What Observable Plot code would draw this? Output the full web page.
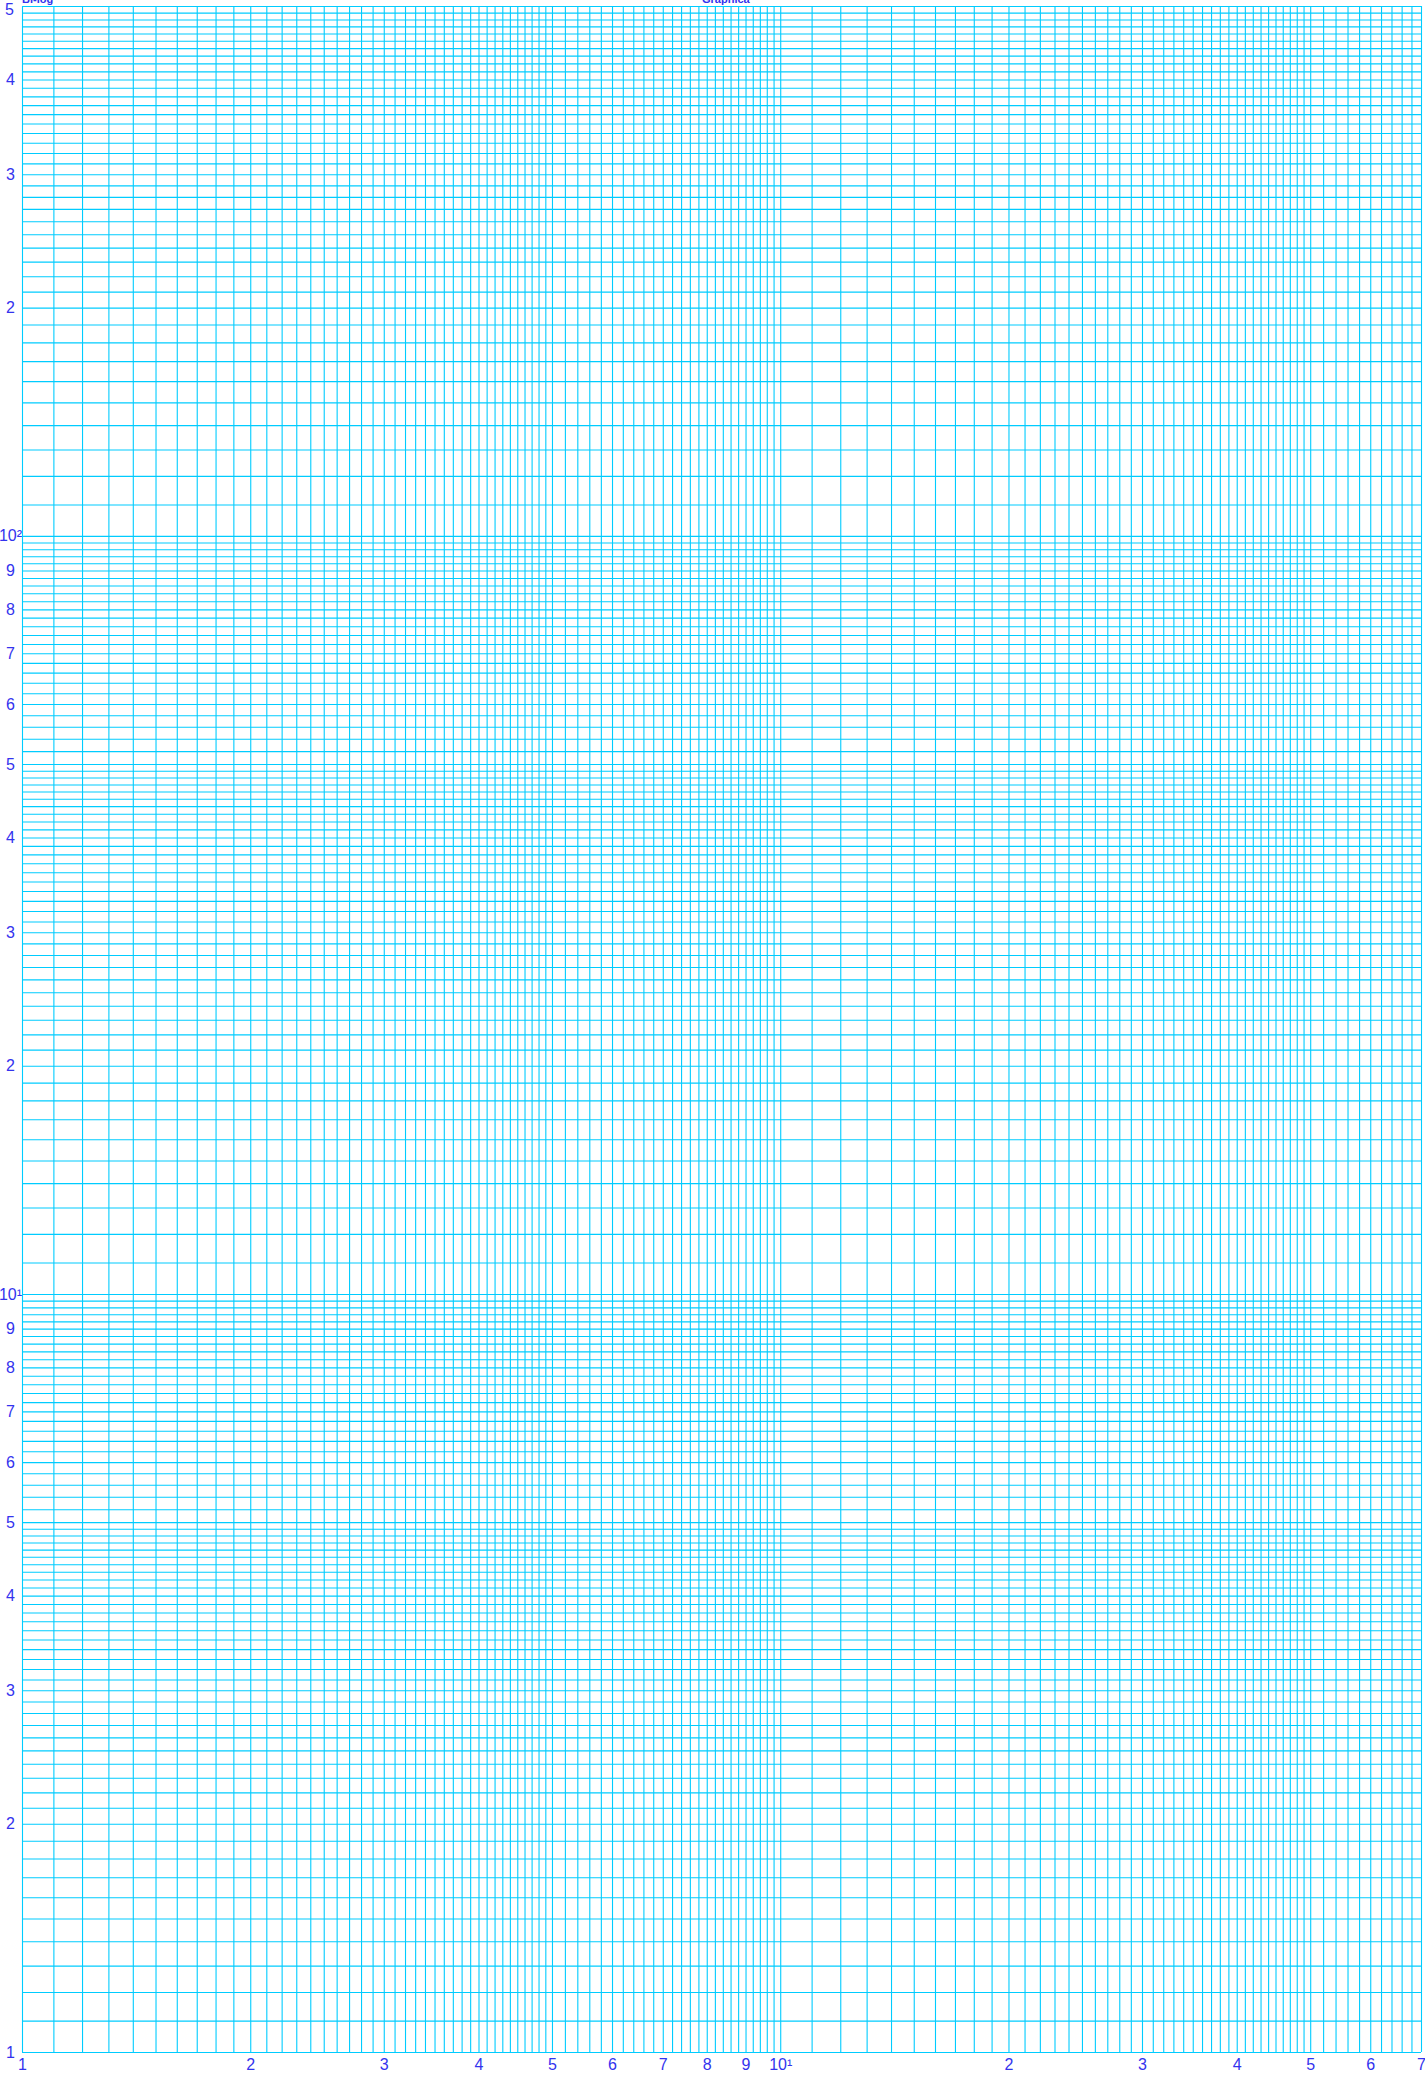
<!DOCTYPE html>
<html>
<head>
<meta charset="utf-8">
<script src="https://cdn.jsdelivr.net/npm/d3@7"></script>
<script src="https://cdn.jsdelivr.net/npm/@observablehq/plot@0.6"></script>
<style>
  html, body { margin: 0; padding: 0; background: #fff; }
  #wrap { position: relative; width: 1425px; height: 2074px; overflow: hidden; }
  .hdr { position: absolute; top: -7px; font: bold 11px "Liberation Sans", Arial, sans-serif; color: #3333ee; white-space: nowrap; }
</style>
</head>
<body>
<div id="wrap">
  <div class="hdr" style="left:22px">Bi-log</div>
  <div class="hdr" style="left:702px">Graphica</div>
</div>
<script>
// Grid segments: [start, end, step] in log-paper subdivisions
const xGridSegments = [[1, 5, 0.1], [5, 10, 0.2], [10, 50, 1], [50, 70, 2]];
const yGridSegments = [[1, 5, 0.1], [5, 10, 0.2], [10, 50, 1], [50, 100, 2], [100, 500, 10]];
// Axis tick labels
const xTicks = [1, 2, 3, 4, 5, 6, 7, 8, 9, 10, 20, 30, 40, 50, 60, 70];
const xTickLabels = ["1", "2", "3", "4", "5", "6", "7", "8", "9", "10¹", "2", "3", "4", "5", "6", "7"];
const yTicks = [1, 2, 3, 4, 5, 6, 7, 8, 9, 10, 20, 30, 40, 50, 60, 70, 80, 90, 100, 200, 300, 400, 500];
const yTickLabels = ["1", "2", "3", "4", "5", "6", "7", "8", "9", "10¹", "2", "3", "4", "5", "6", "7", "8", "9", "10²", "2", "3", "4", "5"];

function expand(segs) {
  const out = [];
  for (const [a, b, s] of segs) {
    const n = Math.round((b - a) / s);
    for (let i = 0; i <= n; i++) out.push(+(a + i * s).toFixed(4));
  }
  return Array.from(new Set(out));
}
const xGrid = expand(xGridSegments);
const yGrid = expand(yGridSegments);
const yLab = new Map(yTicks.map((d, i) => [d, yTickLabels[i]]));
const yTop = yTicks[yTicks.length - 1];

const gridColor = "#00ccff";
const labelColor = "#3333ee";

const chart = Plot.plot({
  width: 1425,
  height: 2074,
  marginLeft: 22,
  marginRight: 4,
  marginTop: 6,
  marginBottom: 22,
  style: { fontFamily: "Liberation Sans, Arial, sans-serif", background: "transparent", overflow: "visible" },
  x: { type: "log", domain: [1, 70], axis: null },
  y: { type: "log", domain: [1, 500], axis: null },
  marks: [
    Plot.ruleX(xGrid, { x: d => d, stroke: gridColor, strokeWidth: 1.1 }),
    Plot.ruleY(yGrid, { y: d => d, stroke: gridColor, strokeWidth: 1.1 }),
    Plot.text(xTicks, { x: d => d, text: (d, i) => xTickLabels[i], frameAnchor: "bottom", dy: 12, fontSize: 16, fill: labelColor, textAnchor: "middle", lineAnchor: "middle" }),
    Plot.text(yTicks.filter(d => d !== yTop), { y: d => d, text: d => yLab.get(d), frameAnchor: "left", dx: -12, fontSize: 16, fill: labelColor, textAnchor: "middle", lineAnchor: "middle" }),
    Plot.text([yTop], { y: d => d, text: d => yLab.get(d), frameAnchor: "left", dx: -13, dy: 3, fontSize: 16, fill: labelColor, textAnchor: "middle", lineAnchor: "middle" })
  ]
});
chart.style.position = "absolute";
chart.style.left = "0";
chart.style.top = "0";
document.getElementById("wrap").prepend(chart);
</script>
</body>
</html>
